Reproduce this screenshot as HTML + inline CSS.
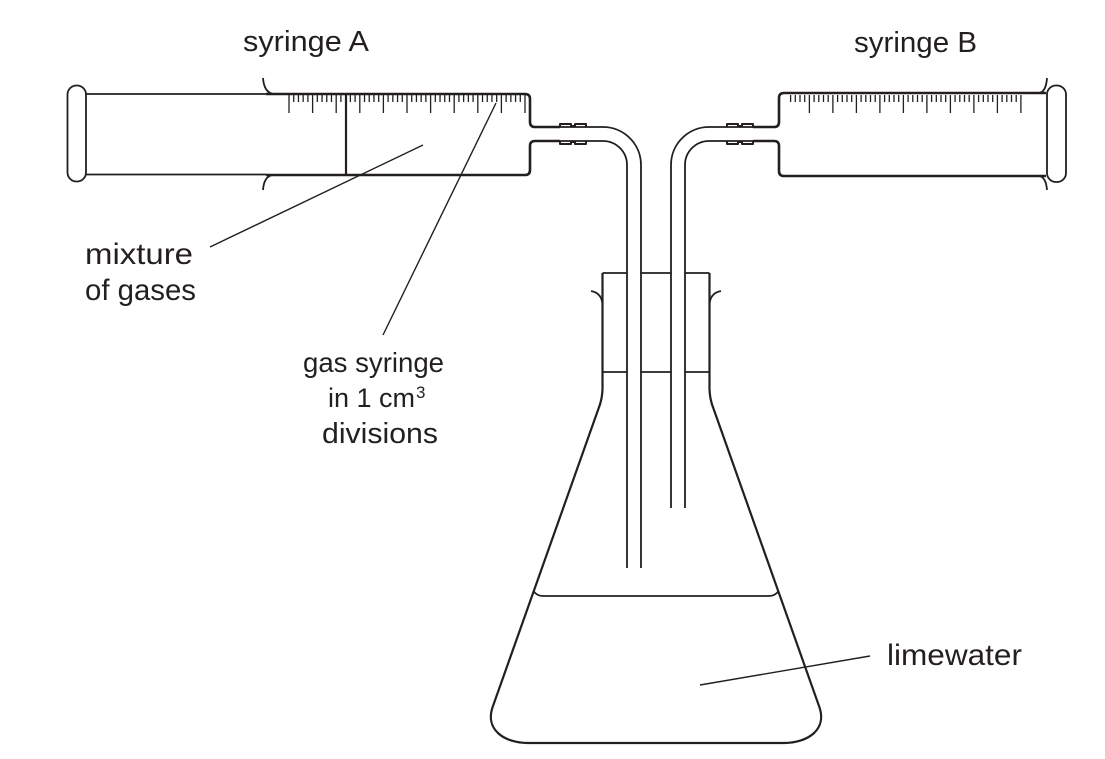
<!DOCTYPE html>
<html>
<head>
<meta charset="utf-8">
<style>
  html, body { margin: 0; padding: 0; background: #ffffff; }
  svg { display: block; }
  text { font-family: "Liberation Sans", Arial, sans-serif; fill: #231f20; }
</style>
</head>
<body>
<svg width="1105" height="759" viewBox="0 0 1105 759" xmlns="http://www.w3.org/2000/svg">
  <rect x="0" y="0" width="1105" height="759" fill="#ffffff"/>
  <g fill="none" stroke="#231f20" stroke-width="1.8" stroke-linecap="butt" stroke-linejoin="round">

    <!-- ===== Syringe A ===== -->
    <rect x="67.5" y="85.5" width="18.5" height="96" rx="9" ry="9"/>
    <path d="M86 94 H266"/>
    <path d="M86 174.5 H266"/>
    <path stroke-width="2.6" d="M266 94 H525 Q530 94 530 99 V122 Q530 127 535 127 H560"/>
    <path stroke-width="2.6" d="M266 175 H525 Q530 175 530 170 V146 Q530 141 535 141 H560"/>
    <path d="M263 78 Q264 92 273 94"/>
    <path d="M263 190 Q264 176 273 175"/>
    <path stroke-width="2.2" d="M346 94 V175"/>
    <!-- ticks A -->
    <path stroke-width="1.3" d="M289 95 v18
      m4.72 -18 v7 m4.72 -7 v7 m4.72 -7 v7 m4.72 -7 v7 m4.72 -7 v18
      m4.72 -18 v7 m4.72 -7 v7 m4.72 -7 v7 m4.72 -7 v7 m4.72 -7 v18
      m4.72 -18 v7 m4.72 -7 v7 m4.72 -7 v7 m4.72 -7 v7 m4.72 -7 v18
      m4.72 -18 v7 m4.72 -7 v7 m4.72 -7 v7 m4.72 -7 v7 m4.72 -7 v18
      m4.72 -18 v7 m4.72 -7 v7 m4.72 -7 v7 m4.72 -7 v7 m4.72 -7 v18
      m4.72 -18 v7 m4.72 -7 v7 m4.72 -7 v7 m4.72 -7 v7 m4.72 -7 v18
      m4.72 -18 v7 m4.72 -7 v7 m4.72 -7 v7 m4.72 -7 v7 m4.72 -7 v18
      m4.72 -18 v7 m4.72 -7 v7 m4.72 -7 v7 m4.72 -7 v7 m4.72 -7 v18
      m4.72 -18 v7 m4.72 -7 v7 m4.72 -7 v7 m4.72 -7 v7 m4.72 -7 v18
      m4.72 -18 v7 m4.72 -7 v7 m4.72 -7 v7 m4.72 -7 v7 m4.72 -7 v18"/>

    <!-- connector A -->
    <path stroke-width="2" d="M560 127 V124 H571 V126 H575 V124 H586 V127"/>
    <path stroke-width="2" d="M560 141 V144 H571 V142 H575 V144 H586 V141"/>

    <!-- left tube -->
    <path d="M560 127 H603 A38 38 0 0 1 641 165 V568"/>
    <path d="M560 141 H603 A24 24 0 0 1 627 165 V568"/>

    <!-- right tube -->
    <path d="M753 127 H709 A38 38 0 0 0 671 165 V508"/>
    <path d="M753 141 H709 A24 24 0 0 0 685 165 V508"/>

    <!-- connector B -->
    <path stroke-width="2" d="M727 127 V124 H738 V126 H742 V124 H753 V127"/>
    <path stroke-width="2" d="M727 141 V144 H738 V142 H742 V144 H753 V141"/>

    <!-- ===== Syringe B ===== -->
    <path stroke-width="2.6" d="M753 127 H774 Q779 127 779 122 V98 Q779 93 784 93 H1046"/>
    <path stroke-width="2.6" d="M753 141 H774 Q779 141 779 146 V171 Q779 176 784 176 H1046"/>
    <path d="M1047 78 Q1046 92 1039 93"/>
    <path d="M1047 190 Q1046 177 1039 176"/>
    <rect x="1047" y="85.5" width="19" height="96.5" rx="9" ry="9"/>
    <!-- ticks B -->
    <path stroke-width="1.3" d="M790.6 95 v7 m4.7 -7 v7 m4.7 -7 v7 m4.7 -7 v7 m4.7 -7 v18
      m4.7 -18 v7 m4.7 -7 v7 m4.7 -7 v7 m4.7 -7 v7 m4.7 -7 v18
      m4.7 -18 v7 m4.7 -7 v7 m4.7 -7 v7 m4.7 -7 v7 m4.7 -7 v18
      m4.7 -18 v7 m4.7 -7 v7 m4.7 -7 v7 m4.7 -7 v7 m4.7 -7 v18
      m4.7 -18 v7 m4.7 -7 v7 m4.7 -7 v7 m4.7 -7 v7 m4.7 -7 v18
      m4.7 -18 v7 m4.7 -7 v7 m4.7 -7 v7 m4.7 -7 v7 m4.7 -7 v18
      m4.7 -18 v7 m4.7 -7 v7 m4.7 -7 v7 m4.7 -7 v7 m4.7 -7 v18
      m4.7 -18 v7 m4.7 -7 v7 m4.7 -7 v7 m4.7 -7 v7 m4.7 -7 v18
      m4.7 -18 v7 m4.7 -7 v7 m4.7 -7 v7 m4.7 -7 v7 m4.7 -7 v18
      m4.7 -18 v7 m4.7 -7 v7 m4.7 -7 v7 m4.7 -7 v7 m4.7 -7 v18"/>

    <!-- ===== Flask ===== -->
    <!-- stopper -->
    <path d="M602.5 273 H627 M641 273 H671 M685 273 H709.5"/>
    <path d="M602.5 372 H627 M641 372 H671 M685 372 H709.5"/>
    <!-- flask body -->
    <path stroke-width="2.2" d="M602.5 273 V385 Q603 398 598 410 L493 706 C484 730 505 743 528 743 H784 C807 743 828 730 819 706 L714 410 Q709 398 709.5 385 V273"/>
    <!-- lip curls -->
    <path d="M591 291 Q602 293 602.5 305"/>
    <path d="M721 291 Q710 293 709.5 305"/>
    <!-- liquid surface -->
    <path d="M533.4 591 Q537 596 543 596 H769 Q775 596 778.6 591"/>

    <!-- ===== Leader lines ===== -->
    <path stroke-width="1.4" d="M210 247 L423 145"/>
    <path stroke-width="1.4" d="M383 335 L496 103"/>
    <path stroke-width="1.4" d="M870 656 L700 685"/>
  </g>

  <!-- ===== Labels ===== -->
  <text x="243" y="51" font-size="29" textLength="126" lengthAdjust="spacingAndGlyphs">syringe A</text>
  <text x="854" y="52" font-size="29" textLength="123" lengthAdjust="spacingAndGlyphs">syringe B</text>
  <text x="85" y="264" font-size="30" textLength="108" lengthAdjust="spacingAndGlyphs">mixture</text>
  <text x="85" y="300" font-size="30" textLength="111" lengthAdjust="spacingAndGlyphs">of gases</text>
  <text x="303" y="372" font-size="28" textLength="141" lengthAdjust="spacingAndGlyphs">gas syringe</text>
  <text x="328" y="407" font-size="27">in 1 cm</text>
  <text x="416" y="398" font-size="17">3</text>
  <text x="322" y="443" font-size="29" textLength="116" lengthAdjust="spacingAndGlyphs">divisions</text>
  <text x="887" y="665" font-size="30" textLength="135" lengthAdjust="spacingAndGlyphs">limewater</text>
</svg>
</body>
</html>
